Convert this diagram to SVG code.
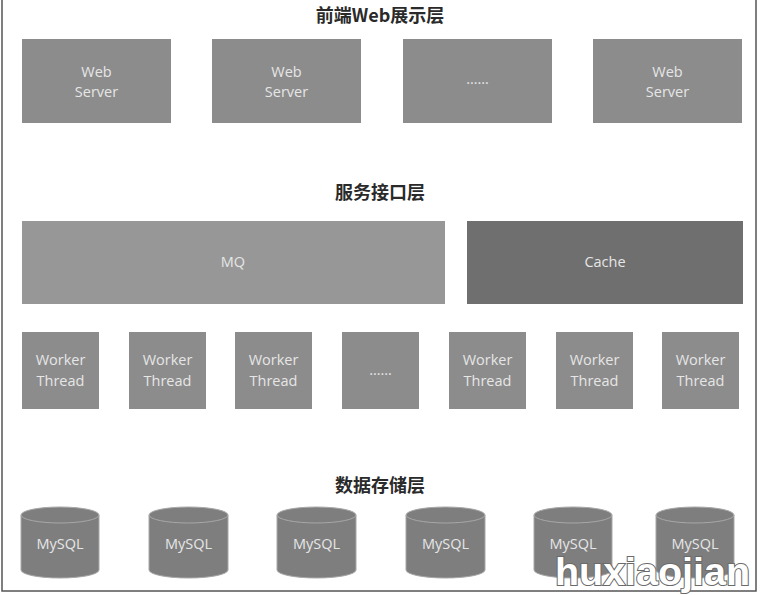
<svg xmlns="http://www.w3.org/2000/svg" width="761" height="595" viewBox="0 0 761 595">
<style>
.title{font-family:"Noto Sans CJK SC","Liberation Sans",sans-serif;font-size:18px;font-weight:bold;fill:#2a2a2a;text-anchor:middle}
.lbl{font-family:"Open Sans","Liberation Sans",sans-serif;font-size:14.5px;fill:#e6e6e6;text-anchor:middle}
.box{fill:#8c8c8c}
.mq{fill:#979797}
.cache{fill:#6f6f6f}
.db{fill:#7e7e7e;stroke:#a8a8a8;stroke-width:1}
.wm{font-family:"Liberation Sans",Arial,sans-serif;font-size:38px;font-weight:bold;fill:#ffffff;stroke:#6a6a6a;stroke-width:2;paint-order:stroke;text-anchor:start}
</style>
<rect x="0" y="0" width="761" height="595" fill="#ffffff"/>
<rect x="2" y="-2" width="754" height="593" fill="none" stroke="#555" stroke-width="1.5"/>
<g id="connectors"></g>
<g id="layer-web">
<text class="title" x="380" y="22">前端Web展示层</text>
<g id="web1"><rect class="box" x="22" y="39" width="149" height="84"/><text class="lbl" x="96.5" y="77">Web</text><text class="lbl" x="96.5" y="97">Server</text></g>
<g id="web2"><rect class="box" x="212" y="39" width="149" height="84"/><text class="lbl" x="286.5" y="77">Web</text><text class="lbl" x="286.5" y="97">Server</text></g>
<g id="web3"><rect class="box" x="403" y="39" width="149" height="84"/><text class="lbl" x="477.5" y="84">……</text></g>
<g id="web4"><rect class="box" x="593" y="39" width="149" height="84"/><text class="lbl" x="667.5" y="77">Web</text><text class="lbl" x="667.5" y="97">Server</text></g>
</g>
<g id="layer-service">
<text class="title" x="380" y="199">服务接口层</text>
<g id="mq"><rect class="mq" x="22" y="221" width="423" height="83"/><text class="lbl" x="233" y="267">MQ</text></g>
<g id="cache"><rect class="cache" x="467" y="221" width="276" height="83"/><text class="lbl" x="605" y="267">Cache</text></g>
<g id="w1"><rect class="box" x="22" y="332" width="77" height="77"/><text class="lbl" x="60.5" y="365">Worker</text><text class="lbl" x="60.5" y="386">Thread</text></g>
<g id="w2"><rect class="box" x="129" y="332" width="77" height="77"/><text class="lbl" x="167.5" y="365">Worker</text><text class="lbl" x="167.5" y="386">Thread</text></g>
<g id="w3"><rect class="box" x="235" y="332" width="77" height="77"/><text class="lbl" x="273.5" y="365">Worker</text><text class="lbl" x="273.5" y="386">Thread</text></g>
<g id="w4"><rect class="box" x="342" y="332" width="77" height="77"/><text class="lbl" x="380.5" y="375">……</text></g>
<g id="w5"><rect class="box" x="449" y="332" width="77" height="77"/><text class="lbl" x="487.5" y="365">Worker</text><text class="lbl" x="487.5" y="386">Thread</text></g>
<g id="w6"><rect class="box" x="556" y="332" width="77" height="77"/><text class="lbl" x="594.5" y="365">Worker</text><text class="lbl" x="594.5" y="386">Thread</text></g>
<g id="w7"><rect class="box" x="662" y="332" width="77" height="77"/><text class="lbl" x="700.5" y="365">Worker</text><text class="lbl" x="700.5" y="386">Thread</text></g>
</g>
<g id="layer-data">
<text class="title" x="380" y="492">数据存储层</text>
<g id="db1"><path class="db" d="M21,515 A39,8 0 0 1 99,515 V570 A39,8 0 0 1 21,570 Z"/><path d="M21,515 A39,8 0 0 0 99,515" fill="none" stroke="#a8a8a8"/><text class="lbl" x="60" y="549">MySQL</text></g>
<g id="db2"><path class="db" d="M149,515 A39.5,8 0 0 1 228,515 V570 A39.5,8 0 0 1 149,570 Z"/><path d="M149,515 A39.5,8 0 0 0 228,515" fill="none" stroke="#a8a8a8"/><text class="lbl" x="188.5" y="549">MySQL</text></g>
<g id="db3"><path class="db" d="M277,515 A39.5,8 0 0 1 356,515 V570 A39.5,8 0 0 1 277,570 Z"/><path d="M277,515 A39.5,8 0 0 0 356,515" fill="none" stroke="#a8a8a8"/><text class="lbl" x="316.5" y="549">MySQL</text></g>
<g id="db4"><path class="db" d="M406,515 A39.5,8 0 0 1 485,515 V570 A39.5,8 0 0 1 406,570 Z"/><path d="M406,515 A39.5,8 0 0 0 485,515" fill="none" stroke="#a8a8a8"/><text class="lbl" x="445.5" y="549">MySQL</text></g>
<g id="db5"><path class="db" d="M534,515 A39,8 0 0 1 612,515 V570 A39,8 0 0 1 534,570 Z"/><path d="M534,515 A39,8 0 0 0 612,515" fill="none" stroke="#a8a8a8"/><text class="lbl" x="573" y="549">MySQL</text></g>
<g id="db6"><path class="db" d="M656,515 A39,8 0 0 1 734,515 V570 A39,8 0 0 1 656,570 Z"/><path d="M656,515 A39,8 0 0 0 734,515" fill="none" stroke="#a8a8a8"/><text class="lbl" x="695" y="549">MySQL</text></g>
</g>
<text class="wm" x="555" y="585" textLength="195" lengthAdjust="spacingAndGlyphs">huxiaojian</text>
</svg>
